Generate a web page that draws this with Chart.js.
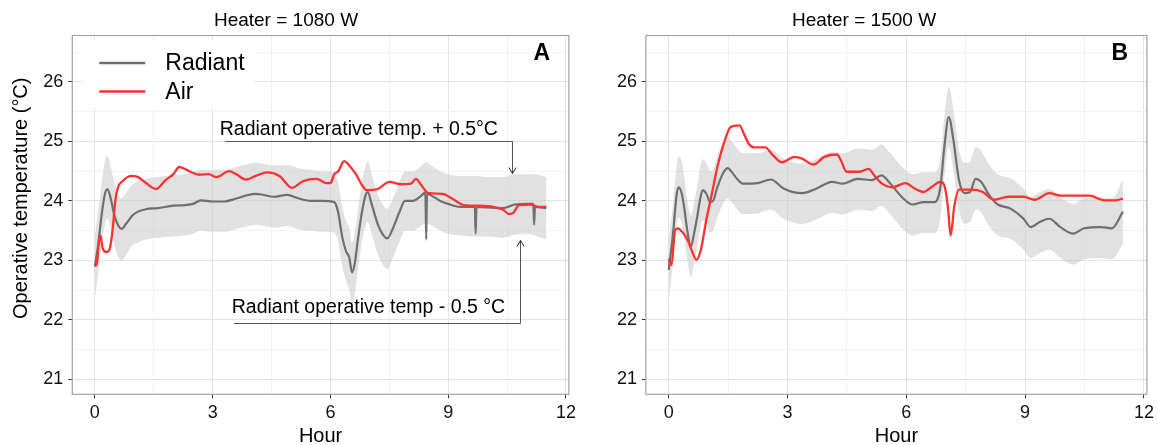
<!DOCTYPE html>
<html><head><meta charset="utf-8">
<script src="https://cdn.jsdelivr.net/npm/chart.js@4.4.1/dist/chart.umd.min.js"></script>
<style>
html,body{margin:0;padding:0;background:#fff;width:1158px;height:445px;overflow:hidden}
#cA{position:absolute;left:0;top:0}
#cB{position:absolute;left:580px;top:0}
</style></head><body>
<canvas id="cA" width="580" height="445"></canvas>
<canvas id="cB" width="578" height="445"></canvas>
<script>
// ---------- data ----------
const panelTitles = ["Heater = 1080 W", "Heater = 1500 W"];
const panelTags = ["A", "B"];
const seriesNames = ["Radiant", "Air"];
const xTickLabels = [0, 3, 6, 9, 12];
const yTickLabels = [21, 22, 23, 24, 25, 26];
const xMinorTicks = [1.5, 4.5, 7.5, 10.5];
const yMinorTicks = [21.5, 22.5, 23.5, 24.5, 25.5, 26.5];

// Panel A (1080 W)
const radHoursA = [0,0.08,0.17,0.25,0.32,0.4,0.5,0.6,0.68,0.8,0.95,1.1,1.3,1.6,2.0,2.3,2.5,2.7,3.0,3.3,3.6,3.9,4.1,4.3,4.55,4.9,5.2,5.5,5.8,6.1,6.2,6.3,6.4,6.48,6.55,6.62,6.7,6.8,6.9,6.95,7.05,7.2,7.35,7.45,7.6,7.75,7.9,8.1,8.3,8.42,8.44,8.46,8.6,8.8,9.0,9.3,9.68,9.7,9.72,10.0,10.4,10.7,11.0,11.17,11.19,11.21,11.5];
const radiantA = [22.9,23.25,23.75,24.1,24.2,24.05,23.75,23.58,23.53,23.62,23.75,23.82,23.86,23.88,23.92,23.93,23.95,24.01,23.99,23.99,24.04,24.1,24.12,24.1,24.07,24.1,24.04,24.0,24.0,23.98,23.8,23.4,23.15,23.05,22.8,22.95,23.35,23.8,24.1,24.15,23.95,23.62,23.42,23.37,23.55,23.8,24.0,24.0,24.08,24.14,23.35,24.12,24.08,24.0,23.95,23.9,23.9,23.45,23.9,23.89,23.88,23.94,23.95,23.95,23.6,23.9,23.88];
const bandHoursA = [0,0.08,0.17,0.25,0.32,0.4,0.5,0.6,0.68,0.8,0.95,1.1,1.3,1.6,2.0,2.3,2.5,2.7,3.0,3.3,3.6,3.9,4.1,4.3,4.55,4.9,5.2,5.5,5.8,6.1,6.2,6.3,6.4,6.48,6.55,6.62,6.7,6.8,6.9,6.95,7.05,7.2,7.35,7.45,7.6,7.75,7.9,8.1,8.3,8.43,8.6,8.8,9.0,9.3,9.7,10.0,10.4,10.7,11.0,11.2,11.5];
const bandHiA = [23.4,23.8,24.3,24.65,24.75,24.6,24.3,24.1,24.04,24.14,24.27,24.33,24.37,24.4,24.43,24.45,24.48,24.52,24.52,24.52,24.57,24.62,24.64,24.62,24.6,24.6,24.55,24.52,24.5,24.49,24.3,23.9,23.65,23.55,23.3,23.45,23.85,24.3,24.6,24.68,24.45,24.12,23.92,23.87,24.05,24.3,24.5,24.5,24.58,24.65,24.58,24.5,24.45,24.42,24.42,24.4,24.4,24.45,24.45,24.45,24.4];
const bandLoA = [22.35,22.75,23.25,23.6,23.7,23.55,23.25,23.05,23.0,23.1,23.25,23.3,23.35,23.38,23.4,23.42,23.45,23.5,23.48,23.48,23.53,23.58,23.6,23.58,23.55,23.58,23.52,23.5,23.48,23.47,23.3,22.9,22.65,22.5,22.28,22.42,22.85,23.3,23.6,23.65,23.45,23.12,22.92,22.85,23.05,23.3,23.5,23.5,23.58,23.62,23.58,23.5,23.45,23.42,23.4,23.4,23.38,23.43,23.45,23.42,23.35];
const airHoursA = [0,0.05,0.1,0.14,0.2,0.3,0.38,0.45,0.52,0.59,0.7,0.93,1.1,1.3,1.56,1.8,2.0,2.15,2.4,2.66,2.9,3.1,3.42,3.6,3.84,4.1,4.39,4.7,5.02,5.3,5.65,5.9,6.0,6.1,6.2,6.35,6.5,6.65,6.8,6.92,7.2,7.5,7.8,8.05,8.18,8.3,8.5,8.85,9.17,9.4,9.8,10.15,10.4,10.55,10.66,10.8,11.1,11.3,11.5];
const airA = [22.9,22.95,23.3,23.42,23.2,23.14,23.2,23.5,24.0,24.23,24.33,24.42,24.4,24.3,24.2,24.35,24.45,24.57,24.5,24.44,24.45,24.4,24.5,24.45,24.36,24.42,24.48,24.42,24.22,24.33,24.37,24.3,24.3,24.45,24.5,24.67,24.58,24.45,24.27,24.18,24.2,24.32,24.28,24.29,24.37,24.28,24.13,24.12,24.01,23.93,23.92,23.9,23.85,23.78,23.8,23.93,23.94,23.9,23.9];

// Panel B (1500 W)
const radHoursB = [0,0.11,0.2,0.25,0.32,0.39,0.47,0.56,0.64,0.72,0.8,0.86,0.95,1.05,1.12,1.23,1.37,1.49,1.6,1.69,1.88,2.25,2.58,2.9,3.37,3.74,4.12,4.4,4.77,5.14,5.37,5.6,5.88,6.16,6.44,6.72,6.86,6.96,7.07,7.19,7.33,7.47,7.61,7.75,7.89,8.07,8.31,8.63,8.96,9.14,9.38,9.61,9.89,10.21,10.49,10.91,11.19,11.47];
const radiantB = [22.84,23.45,24.1,24.23,24.15,23.9,23.5,23.23,23.45,23.73,24.05,24.18,24.12,23.98,24.0,24.23,24.46,24.55,24.48,24.4,24.29,24.3,24.36,24.21,24.13,24.21,24.32,24.29,24.37,24.35,24.43,24.29,24.07,23.94,23.98,23.98,24.23,24.9,25.41,25.02,24.35,24.13,24.15,24.37,24.32,24.12,23.94,23.87,23.7,23.56,23.65,23.7,23.56,23.45,23.54,23.56,23.54,23.82];
const bandHiB = [23.34,23.95,24.6,24.75,24.68,24.42,24.02,23.75,23.97,24.25,24.57,24.7,24.64,24.5,24.52,24.75,24.98,25.08,25.0,24.92,24.8,24.8,24.86,24.71,24.63,24.71,24.82,24.8,24.88,24.86,24.95,24.8,24.58,24.45,24.48,24.48,24.73,25.4,25.92,25.53,24.86,24.64,24.66,24.9,24.84,24.63,24.45,24.38,24.2,24.06,24.15,24.2,24.06,23.95,24.04,24.06,24.04,24.35];
const bandLoB = [22.32,22.95,23.6,23.72,23.65,23.4,23.0,22.72,22.95,23.22,23.55,23.67,23.62,23.47,23.5,23.72,23.95,24.04,23.97,23.89,23.78,23.79,23.85,23.7,23.61,23.69,23.8,23.77,23.85,23.83,23.92,23.77,23.55,23.42,23.46,23.46,23.71,24.38,24.9,24.5,23.84,23.62,23.64,23.86,23.8,23.6,23.42,23.36,23.18,23.04,23.13,23.18,23.04,22.93,23.02,23.04,23.02,23.28];
const airHoursB = [0,0.07,0.16,0.23,0.34,0.48,0.58,0.7,0.81,0.95,1.09,1.23,1.42,1.56,1.79,1.88,2.02,2.16,2.44,2.63,2.86,3.18,3.37,3.65,3.93,4.25,4.35,4.49,4.82,5.05,5.19,5.37,5.65,5.98,6.21,6.44,6.63,6.86,6.96,7.05,7.12,7.21,7.33,7.65,7.93,8.21,8.58,8.96,9.24,9.61,9.89,10.26,10.63,11.0,11.29,11.47];
const airB = [23.03,22.92,23.5,23.54,23.48,23.34,23.17,23.01,23.17,23.68,24.12,24.57,25.02,25.24,25.27,25.16,24.96,24.9,24.9,24.77,24.65,24.74,24.71,24.61,24.74,24.78,24.68,24.49,24.49,24.54,24.43,24.3,24.23,24.3,24.21,24.15,24.23,24.32,24.26,23.9,23.42,23.9,24.19,24.19,24.15,24.02,24.07,24.07,24.02,24.13,24.09,24.09,24.09,24.01,24.01,24.04];

// ---------- styling ----------
const FONT = "'Liberation Sans', Arial, 'DejaVu Sans', sans-serif";
Chart.defaults.font.family = FONT;
const C_RAD = '#6f6f6f', C_AIR = '#fb3232', C_BAND = 'rgba(200,200,200,0.55)';
const C_MAJOR = '#e4e4e4', C_MINOR = '#f3f3f3', C_BORDER = '#a3a3a3', C_TEXT = '#111111';

function pts(xs, ys) { return xs.map((x, i) => ({ x: x, y: ys[i] })); }
const xAll = xTickLabels.concat(xMinorTicks).sort((a, b) => a - b);
const yAll = yTickLabels.concat(yMinorTicks).sort((a, b) => a - b);

const panelDeco = {
  id: 'panelDeco',
  afterDatasetsDraw(chart, args, o) {
    const { ctx, chartArea: ca, scales: { x, y } } = chart;
    ctx.save();
    if (o.legend) {
      ctx.fillStyle = '#ffffff';
      ctx.fillRect(ca.left + 10, ca.top + 5, 172, 67);
      const rows = [[seriesNames[0], C_RAD, ca.top + 27.5], [seriesNames[1], C_AIR, ca.top + 56]];
      rows.forEach(r => {
        ctx.strokeStyle = r[1]; ctx.lineWidth = 2.6; ctx.beginPath();
        ctx.moveTo(ca.left + 27, r[2]); ctx.lineTo(ca.left + 73, r[2]); ctx.stroke();
        ctx.fillStyle = '#000'; ctx.font = '23px ' + FONT; ctx.textAlign = 'left'; ctx.textBaseline = 'middle';
        ctx.fillText(r[0], ca.left + 93, r[2] + 1);
      });
    }
    if (o.notes) {
      o.notes.forEach(n => {
        ctx.fillStyle = '#000'; ctx.font = '19.5px ' + FONT; ctx.textAlign = 'left'; ctx.textBaseline = 'alphabetic';
        ctx.fillText(n.text, x.getPixelForValue(n.tx), y.getPixelForValue(n.ty));
        const x0 = x.getPixelForValue(n.x0), x1 = x.getPixelForValue(n.x1);
        const yl = Math.round(y.getPixelForValue(n.yl)) + 0.5, ya = y.getPixelForValue(n.ya);
        const xa = Math.round(x1) + 0.5;
        ctx.strokeStyle = '#555'; ctx.lineWidth = 1;
        ctx.beginPath(); ctx.moveTo(x0, yl); ctx.lineTo(xa, yl); ctx.lineTo(xa, ya); ctx.stroke();
        const d = ya > yl ? -1 : 1;
        ctx.strokeStyle = '#222';
        ctx.beginPath(); ctx.moveTo(xa - 3.5, ya + d * 6); ctx.lineTo(xa, ya); ctx.lineTo(xa + 3.5, ya + d * 6); ctx.stroke();
      });
    }
    ctx.fillStyle = '#000'; ctx.font = 'bold 23px ' + FONT; ctx.textAlign = 'center'; ctx.textBaseline = 'middle';
    ctx.fillText(o.tag, ca.right - 27, ca.top + 18);
    ctx.strokeStyle = C_BORDER; ctx.lineWidth = 1.2;
    ctx.strokeRect(ca.left, ca.top, ca.right - ca.left, ca.bottom - ca.top);
    ctx.restore();
  }
};

function makePanel(canvasId, idx, d, axisW, padRight, yTitle, deco) {
  const datasets = [
    { label: 'lower', data: pts(d.bandHours, d.bandLo), borderColor: 'rgba(0,0,0,0)', borderWidth: 0, pointRadius: 0, fill: false, cubicInterpolationMode: 'monotone', order: 4 },
    { label: 'band', data: pts(d.bandHours, d.bandHi), borderColor: 'rgba(0,0,0,0)', borderWidth: 0, pointRadius: 0, fill: '-1', backgroundColor: C_BAND, cubicInterpolationMode: 'monotone', order: 3 },
    { label: seriesNames[0], data: pts(d.radHours, d.rad), borderColor: C_RAD, borderWidth: 2.2, pointRadius: 0, fill: false, cubicInterpolationMode: 'monotone', order: 2 },
    { label: seriesNames[1], data: pts(d.airHours, d.air), borderColor: C_AIR, borderWidth: 2.3, pointRadius: 0, fill: false, cubicInterpolationMode: 'monotone', order: 1 }
  ];
  return new Chart(document.getElementById(canvasId), {
    type: 'line',
    data: { datasets: datasets },
    plugins: [panelDeco],
    options: {
      responsive: false, animation: false, devicePixelRatio: 1,
      layout: { padding: { left: 0, right: padRight, top: 0, bottom: 0 } },
      plugins: {
        legend: { display: false }, tooltip: { enabled: false },
        title: { display: true, text: panelTitles[idx], color: '#000', font: { size: 19, weight: 'normal' }, padding: { top: 9, bottom: 3.7 } },
        panelDeco: deco
      },
      scales: {
        x: {
          type: 'linear', min: -0.575, max: 12.075,
          afterBuildTicks: ax => { ax.ticks = xAll.map(v => ({ value: v })); },
          afterFit: ax => { ax.height = 50.7; },
          border: { display: false },
          grid: { color: c => xTickLabels.includes(c.tick.value) ? C_MAJOR : C_MINOR, lineWidth: 1, tickLength: 4, tickColor: c => xTickLabels.includes(c.tick.value) ? '#333' : 'rgba(0,0,0,0)' },
          ticks: { callback: v => xTickLabels.includes(v) ? String(v) : '', color: C_TEXT, font: { size: 18 }, padding: 4, maxRotation: 0, autoSkip: false },
          title: { display: true, text: 'Hour', color: '#000', font: { size: 20 }, padding: { top: 0, bottom: -3 } }
        },
        y: {
          type: 'linear', min: 20.75, max: 26.78,
          afterBuildTicks: ax => { ax.ticks = yAll.map(v => ({ value: v })); },
          afterFit: ax => { ax.width = axisW; },
          border: { display: false },
          grid: { color: c => yTickLabels.includes(c.tick.value) ? C_MAJOR : C_MINOR, lineWidth: 1, tickLength: 4, tickColor: c => yTickLabels.includes(c.tick.value) ? '#333' : 'rgba(0,0,0,0)' },
          ticks: { callback: v => yTickLabels.includes(v) ? String(v) : '', color: C_TEXT, font: { size: 18 }, padding: 5, autoSkip: false },
          title: { display: !!yTitle, text: yTitle || '', color: '#000', font: { size: 20 }, padding: { top: 9.5, bottom: 0 } }
        }
      }
    }
  });
}

makePanel('cA', 0, { radHours: radHoursA, rad: radiantA, bandHours: bandHoursA, bandHi: bandHiA, bandLo: bandLoA, airHours: airHoursA, air: airA },
  72.3, 8, '      Operative temperature (\u00B0C)',
  { tag: panelTags[0], legend: true,
    notes: [
      { text: 'Radiant operative temp. + 0.5\u00B0C', tx: 3.18, ty: 25.11, x0: 3.32, x1: 10.615, yl: 25.01, ya: 24.46 },
      { text: 'Radiant operative temp - 0.5 \u00B0C', tx: 3.486, ty: 22.11, x0: 3.54, x1: 10.84, yl: 21.94, ya: 23.336 }
    ] });
makePanel('cB', 1, { radHours: radHoursB, rad: radiantB, bandHours: radHoursB, bandHi: bandHiB, bandLo: bandLoB, airHours: airHoursB, air: airB },
  65.9, 10, null, { tag: panelTags[1], legend: false });
</script>
</body></html>
